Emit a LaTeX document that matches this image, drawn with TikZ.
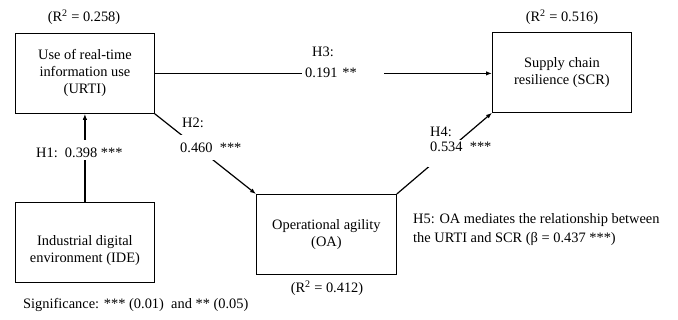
\documentclass[tikz,border=0pt]{standalone}
\usepackage{fontspec}
\setmainfont{Liberation Serif}
\usetikzlibrary{arrows.meta}
\begin{document}
\begin{tikzpicture}[x=1pt,y=-1pt,
  font=\fontsize{14.4}{17}\selectfont,
  box/.style={draw, line width=0.8pt, minimum width=139pt, minimum height=80pt,
    align=center, anchor=north west, inner sep=0pt},
  link/.style={line width=1.2pt, -{Latex[length=6pt,width=4.5pt]}},
  lbl/.style={fill=white, anchor=north west, inner xsep=2pt, inner ysep=0pt, align=left},
  txt/.style={inner sep=0pt, align=left}]
\useasboundingbox (0,0) rectangle (678,320);
% boxes
\node[box] (urti) at (15,33) {Use of real-time\\information use\\(URTI)};
\node[box] (scr) at (492,32) {Supply chain\\resilience (SCR)};
\node[box] (ide) at (15,202) {\rule{0pt}{26pt}Industrial digital\\environment (IDE)};
\node[box, minimum width=140pt] (oa) at (256,194) {Operational agility\\(OA)};
% connectors
\draw[link] (ide) -- (urti);
\draw[link] (urti.south east) -- (oa.north west);
\draw[link] (urti.east) -- (urti.east -| scr.west);
\draw[link] (oa.north east) -- (scr.south west);
% connector labels
\node[lbl, text height=17pt, text depth=3pt] (l1) at (34,140) {H1:\ \ 0.398 ***};
\node[txt, anchor=west] (h2) at (182,123) {H2:};
\node[lbl, text height=17pt, text depth=8pt] (l2) at (178,135) {0.460\ \ ***};
\node[txt, anchor=west] (h3) at (312,52) {H3:};
\node[lbl, inner xsep=3pt, text height=13pt, text depth=8pt, text width=76pt] (l3) at (302,64) {0.191 **};
\node[txt, anchor=west] (h4) at (430,132) {H4:};
\node[lbl, text height=11pt, text depth=16pt] (l4) at (428,140) {0.534\ \ ***};
% R2 labels
\node[txt] (r1) at (84,17) {(R\textsuperscript{2} = 0.258)};
\node[txt] (r2) at (562,17) {(R\textsuperscript{2} = 0.516)};
\node[txt] (r3) at (327,288) {(R\textsuperscript{2} = 0.412)};
% notes
\node[txt, anchor=west] (sig) at (23,305) {Significance: *** (0.01)\ \ and ** (0.05)};
\node[txt, anchor=north west, font=\fontsize{14.4}{19}\selectfont] (h5) at (413,213) {H5: OA mediates the relationship between\\the URTI and SCR (β = 0.437 ***)};
\end{tikzpicture}
\end{document}
